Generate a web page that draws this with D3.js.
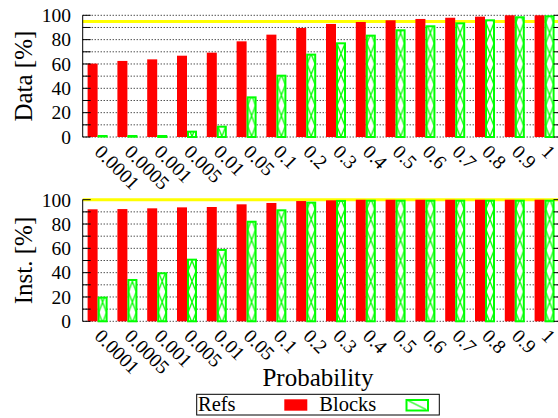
<!DOCTYPE html>
<html>
<head>
<meta charset="utf-8">
<script src="https://cdn.jsdelivr.net/npm/d3@7"></script>
<style>
  body { margin: 0; background: #fff; }
  svg { display: block; font-family: "Liberation Serif", "DejaVu Serif", serif; }
</style>
</head>
<body>
<div id="chart"></div>
<script>
// Chart data
var categories = ["0.0001", "0.0005", "0.001", "0.005", "0.01", "0.05", "0.1", "0.2",
                  "0.3", "0.4", "0.5", "0.6", "0.7", "0.8", "0.9", "1"];
var seriesNames = ["Refs", "Blocks"];
var dataRefs   = [60.3, 62.5, 63.8, 66.8, 69.3, 78.6, 84.1, 89.6, 92.9, 94.5, 95.9, 97.0, 98.0, 98.9, 100, 100];
var dataBlocks = [0.8, 1.4, 1.6, 5.2, 9.3, 33.4, 51.2, 68.5, 77.8, 84.1, 88.5, 91.8, 94.2, 96.7, 99.2, 100];
var instRefs   = [92.1, 92.3, 92.9, 93.7, 94.0, 96.2, 97.3, 98.9, 99.5, 100, 100, 100, 100, 100, 100, 100];
var instBlocks = [20.3, 34.8, 40.3, 51.5, 59.5, 82.7, 92.1, 98.4, 99.8, 100, 100, 100, 100, 100, 100, 100];
var yTicks = [0, 20, 40, 60, 80, 100];
var gridTicks = [0, 10, 20, 30, 40, 50, 60, 70, 80, 90, 100];
var dataThreshold = 95;
var instThreshold = 100;

var svgWidth = 558;
var svgHeight = 418;

var svg = d3.select("#chart")
  .append("svg")
  .attr("width", svgWidth)
  .attr("height", svgHeight);

// x scales: one band per probability, one sub band per series
var xScale = d3.scaleBand()
  .domain(categories)
  .range([82.7, 559.5])
  .paddingInner(0)
  .paddingOuter(0);

var xSeries = d3.scaleBand()
  .domain(seriesNames)
  .range([0, xScale.bandwidth()])
  .paddingInner(0)
  .paddingOuter(0.49);

var colors = { Refs: "#ff0000", Blocks: "#00ff00" };

// Hatch pattern for the green bars (two zigzags crossing inside the bar)
var defs = svg.append("defs");
var gx = xSeries("Blocks") + 1;
var gw = xSeries.bandwidth() - 2;
var ph = 41.4;
var hatch = defs.append("pattern")
  .attr("id", "hatch")
  .attr("patternUnits", "userSpaceOnUse")
  .attr("x", xScale.range()[0])
  .attr("y", 2)
  .attr("width", xScale.step())
  .attr("height", ph);
hatch.append("rect")
  .attr("width", xScale.step())
  .attr("height", ph)
  .attr("fill", "#fff");
hatch.append("path")
  .attr("d", `M${gx},0 L${gx + gw},${ph / 2} L${gx},${ph} M${gx + gw},0 L${gx},${ph / 2} L${gx + gw},${ph}`)
  .attr("fill", "none")
  .attr("stroke", "#00ff00")
  .attr("stroke-width", 1.3);

// Legend swatch pattern (single slash)
var swatch = defs.append("pattern")
  .attr("id", "swatchHatch")
  .attr("patternUnits", "userSpaceOnUse")
  .attr("x", 406)
  .attr("y", 399.5)
  .attr("width", 22)
  .attr("height", 11);
swatch.append("rect").attr("width", 22).attr("height", 11).attr("fill", "#fff");
swatch.append("path")
  .attr("d", "M2,1 L20,10")
  .attr("stroke", "#00ff00")
  .attr("stroke-width", 1.3);

// Draws one of the two panels
function drawPanel(yTop, yBottom, refs, blocks, threshold, title) {
  var yScale = d3.scaleLinear()
    .domain([0, 100])
    .range([yBottom, yTop]);

  var x0 = xScale.range()[0];
  var x1 = xScale.range()[1];
  var g = svg.append("g");

  // dotted grid lines
  g.selectAll(".grid")
    .data(gridTicks)
    .enter()
    .append("line")
    .attr("x1", x0)
    .attr("x2", x1)
    .attr("y1", d => yScale(d))
    .attr("y2", d => yScale(d))
    .attr("stroke", "#000")
    .attr("stroke-width", 1)
    .attr("stroke-dasharray", "1,2");

  // yellow reference line
  g.append("line")
    .attr("x1", x0)
    .attr("x2", x1)
    .attr("y1", yScale(threshold))
    .attr("y2", yScale(threshold))
    .attr("stroke", "#ffff00")
    .attr("stroke-width", 3);

  // red bars
  g.selectAll(".refs")
    .data(refs)
    .enter()
    .append("rect")
    .attr("x", (d, i) => xScale(categories[i]) + xSeries("Refs"))
    .attr("y", d => yScale(d))
    .attr("width", xSeries.bandwidth())
    .attr("height", d => yScale(0) - yScale(d))
    .attr("fill", colors.Refs);

  // green hatched bars
  g.selectAll(".blocks")
    .data(blocks)
    .enter()
    .append("rect")
    .attr("x", (d, i) => xScale(categories[i]) + xSeries("Blocks") + 1)
    .attr("y", d => Math.min(yScale(d) + 1, yScale(0) - 1))
    .attr("width", xSeries.bandwidth() - 2)
    .attr("height", d => Math.max(0.5, yScale(0) - yScale(d) - 1))
    .attr("fill", "url(#hatch)")
    .attr("stroke", colors.Blocks)
    .attr("stroke-width", 2);

  // left axis line and inward ticks on both sides
  g.append("line")
    .attr("x1", x0).attr("x2", x0)
    .attr("y1", yScale(0)).attr("y2", yScale(100))
    .attr("stroke", "#000");

  g.selectAll(".ltick")
    .data(gridTicks)
    .enter()
    .append("line")
    .attr("x1", x0).attr("x2", x0 + 8)
    .attr("y1", d => yScale(d)).attr("y2", d => yScale(d))
    .attr("stroke", "#000");

  g.selectAll(".rtick")
    .data(gridTicks)
    .enter()
    .append("line")
    .attr("x1", x1 - 6).attr("x2", x1)
    .attr("y1", d => yScale(d)).attr("y2", d => yScale(d))
    .attr("stroke", "#000");

  // y tick labels
  g.selectAll(".ylab")
    .data(yTicks)
    .enter()
    .append("text")
    .attr("x", 71)
    .attr("y", d => yScale(d))
    .attr("dy", "0.35em")
    .attr("text-anchor", "end")
    .attr("font-size", "19.5px")
    .text(d => d);

  // rotated x tick labels
  g.selectAll(".xlab")
    .data(categories)
    .enter()
    .append("text")
    .attr("transform", d => `translate(${xScale(d) + xScale.bandwidth() / 2 - 4}, ${yBottom + 16}) rotate(45)`)
    .attr("font-size", "19.5px")
    .text(d => d);

  // y axis title
  g.append("text")
    .attr("transform", `translate(23, ${(yTop + yBottom) / 2}) rotate(-90)`)
    .attr("text-anchor", "middle")
    .attr("dy", "0.35em")
    .attr("font-size", "25px")
    .text(title);
}

drawPanel(15.3, 137, dataRefs, dataBlocks, dataThreshold, "Data [%]");
drawPanel(199.7, 321.3, instRefs, instBlocks, instThreshold, "Inst. [%]");

// x axis title
svg.append("text")
  .attr("x", 318)
  .attr("y", 386)
  .attr("text-anchor", "middle")
  .attr("font-size", "25px")
  .text("Probability");

// Legend
var legend = svg.append("g");
legend.append("rect")
  .attr("x", 196.7)
  .attr("y", 394.3)
  .attr("width", 242.6)
  .attr("height", 20.7)
  .attr("fill", "#fff")
  .attr("stroke", "#000");
legend.append("text")
  .attr("x", 198)
  .attr("y", 411)
  .attr("font-size", "20.5px")
  .text(seriesNames[0]);
legend.append("rect")
  .attr("x", 284.3)
  .attr("y", 399.3)
  .attr("width", 23)
  .attr("height", 11.4)
  .attr("fill", colors.Refs);
legend.append("text")
  .attr("x", 319.3)
  .attr("y", 411)
  .attr("font-size", "20.5px")
  .text(seriesNames[1]);
legend.append("rect")
  .attr("x", 406.5)
  .attr("y", 400)
  .attr("width", 21.5)
  .attr("height", 10.5)
  .attr("fill", "url(#swatchHatch)")
  .attr("stroke", colors.Blocks)
  .attr("stroke-width", 2);
</script>
</body>
</html>
